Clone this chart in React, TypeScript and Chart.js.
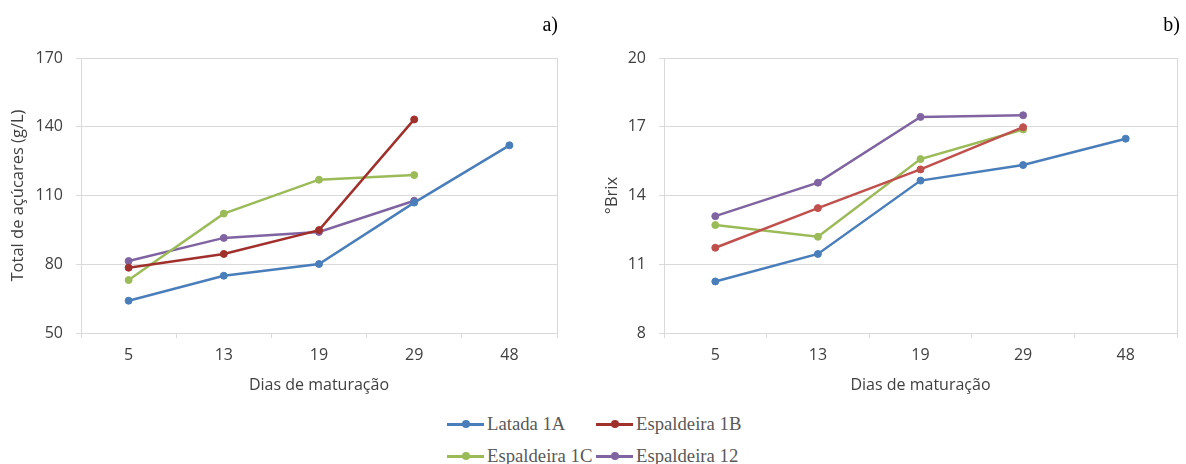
import React, { useEffect, useRef } from "react";
import { Chart, registerables } from "chart.js";

Chart.register(...registerables);

// ---- Data ----
const days = ["5", "13", "19", "29", "48"];
const seriesNames = ["Latada 1A", "Espaldeira 1B", "Espaldeira 1C", "Espaldeira 12"];

const sugarLatada1A = [64.1, 75.0, 80.1, 106.9, 131.9];
const sugarEsp1B = [78.5, 84.5, 94.9, 143.2, null];
const sugarEsp1C = [73.1, 102.1, 116.9, 118.9, null];
const sugarEsp12 = [81.4, 91.5, 94.1, 107.7, null];

const brixLatada1A = [10.25, 11.45, 14.65, 15.33, 16.48];
const brixEsp1B = [11.72, 13.45, 15.14, 16.98, null];
const brixEsp1C = [12.71, 12.2, 15.59, 16.88, null];
const brixEsp12 = [13.1, 14.56, 17.43, 17.5, null];

const sugarTicks = [50, 80, 110, 140, 170];
const brixTicks = [8, 11, 14, 17, 20];

const colorsA = ["#4A7EBB", "#A0302C", "#9BBB59", "#8064A2"];
const colorsB = ["#4A7EBB", "#C0504D", "#9BBB59", "#8064A2"];
const legendColors = ["#4A7EBB", "#A0302C", "#9BBB59", "#8064A2"];

const GRID = "#D9D9D9";
const TEXT = "#404040";
const SANS = "'Open Sans', 'Noto Sans', sans-serif";
const SERIF = "'Liberation Serif', 'DejaVu Serif', serif";

const rightBorder = {
  id: "rightBorder",
  afterDraw(chart: any) {
    const { ctx, chartArea } = chart;
    ctx.save();
    ctx.strokeStyle = GRID;
    ctx.lineWidth = 1;
    ctx.beginPath();
    const x = Math.round(chartArea.right) + 0.5;
    ctx.moveTo(x, chartArea.top);
    ctx.lineTo(x, chartArea.bottom);
    ctx.stroke();
    ctx.restore();
  },
};

function makeConfig(
  series: (number | null)[][],
  colors: string[],
  ticks: number[],
  yTitle: string,
  yWidth: number,
  yTitlePad: number,
  rightPad: number
): any {
  return {
    type: "line",
    data: {
      labels: days,
      datasets: series.map((d, i) => ({
        label: seriesNames[i],
        data: d,
        borderColor: colors[i],
        backgroundColor: colors[i],
        borderWidth: 2.5,
        pointRadius: 3.5,
        pointBorderWidth: 1,
        pointBackgroundColor: colors[i],
        pointBorderColor: colors[i],
        tension: 0,
        spanGaps: false,
      })),
    },
    options: {
      responsive: false,
      animation: false,
      layout: { padding: { top: 58, right: rightPad, left: 0, bottom: 0 } },
      plugins: { legend: { display: false }, tooltip: { enabled: false } },
      scales: {
        x: {
          type: "category",
          offset: true,
          grid: {
            offset: true,
            drawOnChartArea: false,
            drawTicks: true,
            tickLength: 5,
            color: GRID,
          },
          border: { display: true, color: GRID },
          ticks: {
            color: TEXT,
            font: { family: SANS, size: 16 },
            padding: 8,
            maxRotation: 0,
          },
          title: {
            display: true,
            text: "Dias de maturação",
            color: TEXT,
            font: { family: SANS, size: 16 },
            padding: { top: 0, bottom: 5 },
          },
          afterFit(scale: any) {
            scale.height = 67;
          },
        },
        y: {
          min: ticks[0],
          max: ticks[ticks.length - 1],
          afterBuildTicks(scale: any) {
            scale.ticks = ticks.map((v) => ({ value: v }));
          },
          grid: { color: GRID, tickLength: 5, drawTicks: true },
          border: { display: true, color: GRID },
          ticks: {
            color: TEXT,
            font: { family: SANS, size: 16 },
            padding: 13,
          },
          title: {
            display: true,
            text: yTitle,
            color: TEXT,
            font: { family: SANS, size: 16.5 },
            padding: { top: yTitlePad, bottom: 0 },
          },
          afterFit(scale: any) {
            scale.width = yWidth;
          },
        },
      },
    },
    plugins: [rightBorder],
  };
}

function LineChart(props: { config: any; width: number; height: number; left: number; top: number }) {
  const ref = useRef<HTMLCanvasElement | null>(null);
  useEffect(() => {
    if (!ref.current) return;
    const chart = new Chart(ref.current, props.config);
    return () => chart.destroy();
  }, []);
  return (
    <canvas
      ref={ref}
      width={props.width}
      height={props.height}
      style={{ position: "absolute", left: props.left, top: props.top, width: props.width, height: props.height }}
    />
  );
}

function LegendItem(props: { color: string; label: string; left: number; top: number; lineW: number }) {
  return (
    <div style={{ position: "absolute", left: props.left, top: props.top - 12, height: 24, display: "flex", alignItems: "center" }}>
      <div style={{ position: "relative", width: props.lineW, height: 24 }}>
        <div style={{ position: "absolute", left: 0, top: 11, width: props.lineW, height: 2.5, background: props.color }} />
        <div
          style={{
            position: "absolute",
            left: props.lineW / 2 - 4,
            top: 8.25,
            width: 8,
            height: 8,
            borderRadius: 4,
            background: props.color,
          }}
        />
      </div>
      <span style={{ fontFamily: SERIF, fontSize: 18.7, color: "#595959", marginLeft: 3, whiteSpace: "nowrap" }}>{props.label}</span>
    </div>
  );
}

export default function App() {
  const configA = makeConfig(
    [sugarLatada1A, sugarEsp1B, sugarEsp1C, sugarEsp12],
    colorsA,
    sugarTicks,
    "Total de açúcares (g/L)",
    81,
    8,
    23
  );
  const configB = makeConfig(
    [brixLatada1A, brixEsp1B, brixEsp1C, brixEsp12],
    colorsB,
    brixTicks,
    "°Brix",
    74,
    12,
    9
  );
  return (
    <div style={{ position: "absolute", left: 0, top: 0, width: 1186, height: 464, background: "#fff", overflow: "hidden" }}>
      <LineChart config={configA} width={580} height={400} left={0} top={0} />
      <LineChart config={configB} width={596} height={400} left={590} top={0} />
      <div style={{ position: "absolute", right: 1186 - 558, top: 12, fontFamily: SERIF, fontSize: 20, color: "#000", lineHeight: "24px" }}>a)</div>
      <div style={{ position: "absolute", right: 1186 - 1180, top: 12, fontFamily: SERIF, fontSize: 20, color: "#000", lineHeight: "24px" }}>b)</div>
      <LegendItem color={legendColors[0]} label={seriesNames[0]} left={447} top={424} lineW={37} />
      <LegendItem color={legendColors[1]} label={seriesNames[1]} left={596} top={424} lineW={37} />
      <LegendItem color={legendColors[2]} label={seriesNames[2]} left={447} top={456} lineW={37} />
      <LegendItem color={legendColors[3]} label={seriesNames[3]} left={596} top={456} lineW={37} />
    </div>
  );
}
